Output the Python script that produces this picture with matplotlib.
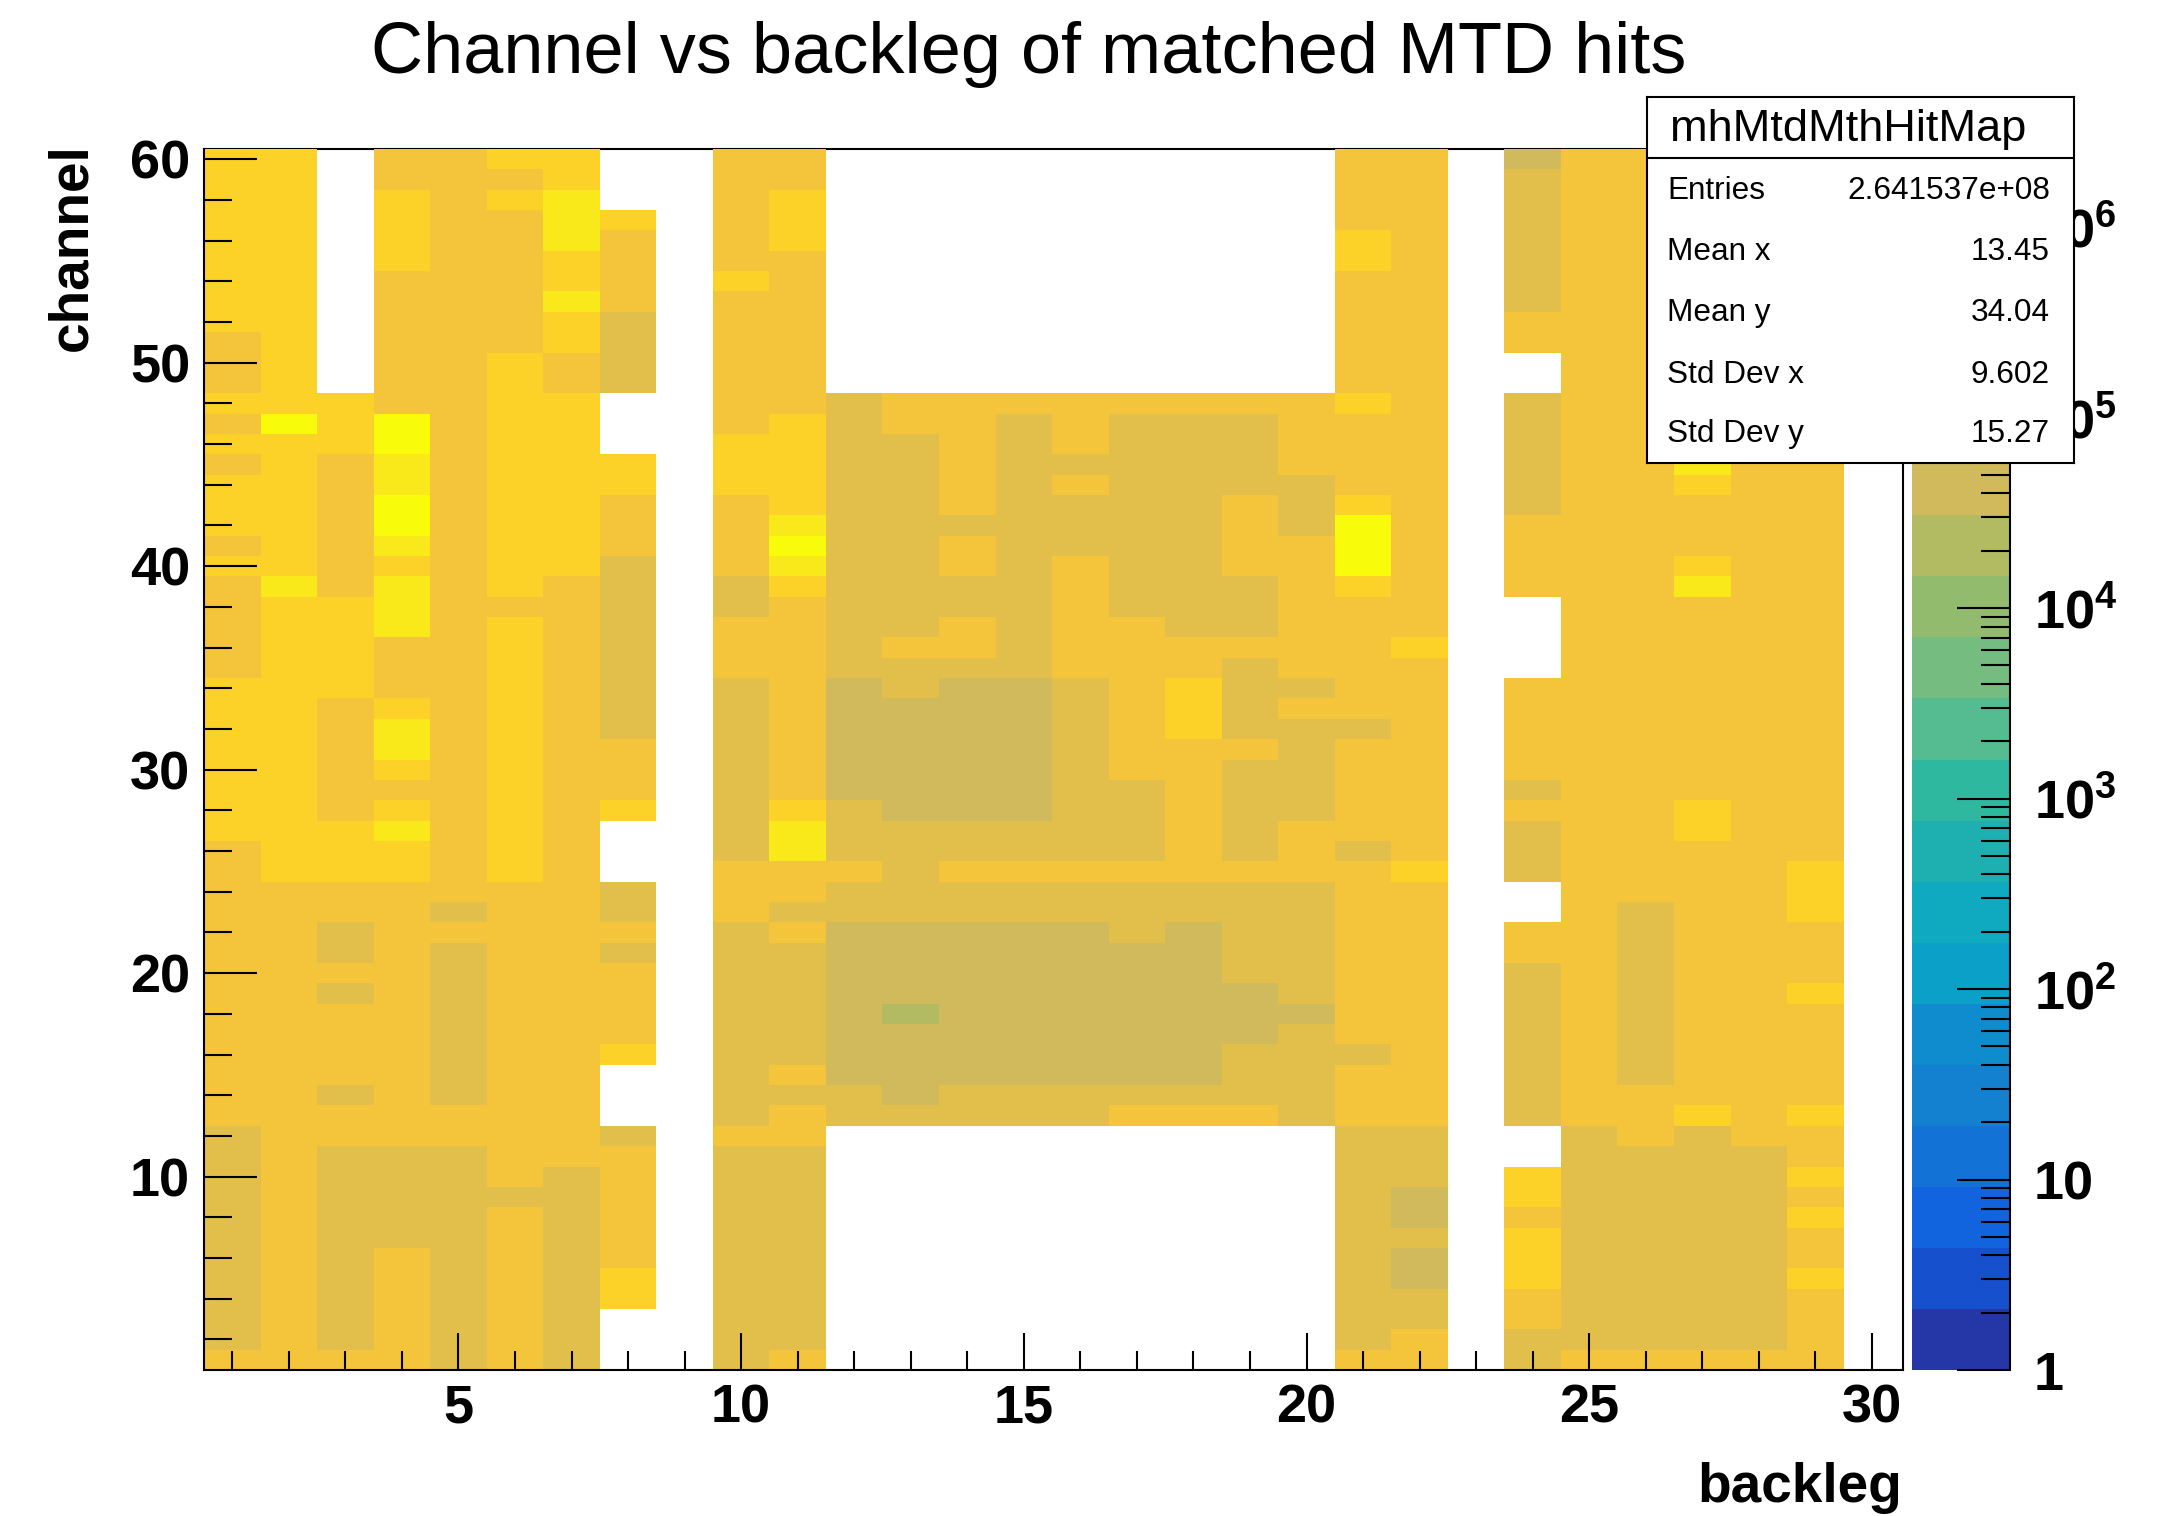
import numpy as np
import matplotlib
matplotlib.use('Agg')
import matplotlib.pyplot as plt
from matplotlib.colors import ListedColormap, LogNorm
from matplotlib.ticker import MultipleLocator, LogLocator, NullFormatter

plt.rcParams['font.family'] = ['Liberation Sans', 'DejaVu Sans']
plt.rcParams['mathtext.fontset'] = 'custom'
plt.rcParams['mathtext.bf'] = 'Liberation Sans:bold'
plt.rcParams['mathtext.rm'] = 'Liberation Sans:bold'

# one string per backleg, runs of hit levels from channel 60 down to channel 1
backleg_01 = "C9 D3 C1 D1 C1 D1 C3 D1 C1 D5 C8 D14 E11 D1"
backleg_02 = "C13 A1 C7 B1 C14 D24"
backleg_03 = ".12 C3 D7 C5 D6 C3 D2 E2 D1 E1 D4 E1 D2 E10 D1"
backleg_04 = "D2 C4 D7 A2 B2 A2 B1 C1 B3 D3 C1 B2 C1 D1 C1 B1 C2 D13 E5 D6"
backleg_05 = "D37 E1 D1 E8 D2 E11"
backleg_06 = "C1 D1 C1 D7 C12 D1 C13 D15 E1 D8"
backleg_07 = "C2 B3 C2 B1 C2 D2 C9 D29 E10"
backleg_08 = ".3 C1 D4 E4 .3 C2 D3 E9 D3 C1 .3 E2 D1 E1 D4 C1 .3 E1 D6 C2 .3"
backleg_09 = ".60"
backleg_10 = "D6 C1 D7 C3 D4 E2 D3 E9 D3 E10 D1 E11"
backleg_11 = "D2 C3 D8 C5 B1 A1 B1 C1 D10 C1 B2 D2 E1 D1 E6 D1 E1 D2 E10 D1"
backleg_12 = ".12 E14 F6 E3 D1 E2 F8 E2 .12"
backleg_13 = ".12 D2 E10 D1 E2 F6 E2 E1 E2 F4 G1 F4 E1 .12"
backleg_14 = ".12 D6 E1 D2 E2 D2 E1 F7 E2 D1 E2 F8 E2 .12"
backleg_15 = ".12 D1 E13 F7 E2 D1 E2 F8 E2 .12"
backleg_16 = ".12 D3 E1 D1 E3 D6 E9 D1 E2 F8 E2 .12"
backleg_17 = ".12 D1 E10 D8 E4 D1 E3 F7 E1 D1 .12"
backleg_18 = ".12 D1 E11 D2 C3 D7 E2 F8 E1 D1 .12"
backleg_19 = ".12 D1 E4 D4 E3 D1 E4 D1 E5 D1 E5 F3 E3 D1 .12"
backleg_20 = ".12 D4 E3 D7 E1 D1 E5 D3 E6 F1 E5 .12"
backleg_21 = "D4 C2 D6 C1 D4 C1 A3 C1 D6 E1 D5 E1 D9 E1 D3 E11 D1"
backleg_22 = "D24 C1 D10 C1 D12 E3 F2 E1 F2 E2 D2"
backleg_23 = ".60"
backleg_24 = "F1 E7 D2 .2 E6 D4 .4 D5 E1 D1 E3 .2 D2 E8 .2 C2 D1 C3 D2 E2"
backleg_25 = "D48 E11 D1"
backleg_26 = "D37 E9 D3 E10 D1"
backleg_27 = "D15 B1 C1 D3 C1 B1 D10 C2 D13 C1 E11 D1"
backleg_28 = "D49 E10 D1"
backleg_29 = "D35 C3 D3 C1 D5 C1 D2 C1 D1 C1 D2 C1 D4"
backleg_30 = ".60"

backlegs = [backleg_01, backleg_02, backleg_03, backleg_04, backleg_05, backleg_06,
            backleg_07, backleg_08, backleg_09, backleg_10, backleg_11, backleg_12,
            backleg_13, backleg_14, backleg_15, backleg_16, backleg_17, backleg_18,
            backleg_19, backleg_20, backleg_21, backleg_22, backleg_23, backleg_24,
            backleg_25, backleg_26, backleg_27, backleg_28, backleg_29, backleg_30]

# typical hits in a bin for each level
level_hits = {'.': np.nan, 'G': 21000, 'F': 45000, 'E': 93000, 'D': 196000,
              'C': 410000, 'B': 850000, 'A': 1800000}

# palette bands, bottom to top of the colour bar
band_colors = ['#2537A6', '#1750CC', '#1264DE', '#1272D6', '#1380D0', '#0F8CCE', '#0AA0C8',
               '#0FAAC0', '#1EB0B0', '#2EB8A0', '#55BC92', '#75BC80', '#93BB6E', '#B2BB62',
               '#D0BA5C', '#E2BF4B', '#F4C43A', '#FDD228', '#F9E81A', '#F8FC0A']
z_max = 2.57e6

x_ticks = [5, 10, 15, 20, 25, 30]
y_ticks = [10, 20, 30, 40, 50, 60]
cbar_ticks = [1, 10, 100, 1000, 10000, 100000, 1000000]
cbar_labels = ['1', '10', r'$\mathbf{10^{2}}$', r'$\mathbf{10^{3}}$', r'$\mathbf{10^{4}}$',
               r'$\mathbf{10^{5}}$', r'$\mathbf{10^{6}}$']

stat_names = ['Entries', 'Mean x', 'Mean y', 'Std Dev x', 'Std Dev y']
stat_values = ['2.641537e+08', '13.45', '34.04', '9.602', '15.27']

# expand the runs into a channel x backleg table
columns = []
for runs in backlegs:
    col = []
    for run in runs.split():
        col += [level_hits[run[0]]] * int(run[1:])
    columns.append(col[::-1])
hits = np.array(columns, dtype=float).T

W, H = 2161, 1516
def frac(x0, y0, x1, y1):
    return [x0 / W, 1 - y1 / H, (x1 - x0) / W, (y1 - y0) / H]

fig = plt.figure(figsize=(W / 100, H / 100), dpi=100, facecolor='white')
ax = fig.add_axes(frac(204, 149, 1903, 1370))
cax = fig.add_axes(frac(1912, 149, 2010, 1370))

cmap = ListedColormap(band_colors)
cmap.set_bad('white', 0)
norm = LogNorm(vmin=1, vmax=z_max)
mesh = ax.pcolormesh(np.arange(0.5, 31), np.arange(0.5, 61), np.ma.masked_invalid(hits),
                     cmap=cmap, norm=norm, zorder=1)
ax.set_xlim(0.5, 30.55); ax.set_ylim(0.5, 60.5)

# plot directives
ax.spines['top'].set_zorder(0.5)
for s in ax.spines.values():
    s.set_linewidth(1.5)
ax.set_xticks(x_ticks); ax.set_yticks(y_ticks)
ax.xaxis.set_minor_locator(MultipleLocator(1)); ax.yaxis.set_minor_locator(MultipleLocator(2))
ax.tick_params(axis='x', which='major', direction='in', length=27, width=1.5, pad=10, labelsize=39)
ax.tick_params(axis='x', which='minor', direction='in', length=14, width=1.5)
ax.tick_params(axis='y', which='major', direction='in', length=38, width=1.5, pad=10, labelsize=39)
ax.tick_params(axis='y', which='minor', direction='in', length=20, width=1.5)
for t in ax.get_xticklabels() + ax.get_yticklabels():
    t.set_fontweight('bold')

# colour bar
cb = fig.colorbar(mesh, cax=cax)
cb.outline.set_visible(False)
cax.spines['right'].set_visible(True); cax.spines['right'].set_linewidth(1.5)
cb.set_ticks(cbar_ticks, labels=cbar_labels)
cax.yaxis.set_minor_locator(LogLocator(base=10, subs=np.arange(2, 10)))
cax.yaxis.set_minor_formatter(NullFormatter())
cax.tick_params(which='major', direction='in', length=38, width=1.5, pad=17, labelsize=39)
cax.tick_params(which='minor', direction='in', length=21, width=1.5)
for t in cax.get_yticklabels():
    t.set_fontweight('bold')

# titles
fig.text(1029 / W, 1 - 54 / H, 'Channel vs backleg of matched MTD hits', fontsize=51.9,
         ha='center', va='center')
fig.text(1902 / W, 1 - 1488 / H, 'backleg', fontsize=39.6, fontweight='bold', ha='right', va='center')
fig.text(72 / W, 1 - 143 / H, 'channel', fontsize=39.6, fontweight='bold', rotation=90,
         ha='center', va='top')

# stats box
box = fig.add_axes(frac(1647, 97, 2074, 463), zorder=10)
box.set_xlim(1647, 2074); box.set_ylim(463, 97)
box.set_xticks([]); box.set_yticks([])
for s in box.spines.values():
    s.set_linewidth(1.5)
box.axhline(158, color='black', lw=1.5)
box.text(1670, 130, 'mhMtdMthHitMap', fontsize=32.5, ha='left', va='center')
for y, name, val in zip([191, 252, 313, 375, 434], stat_names, stat_values):
    box.text(1667, y, name, fontsize=22.7, ha='left', va='center')
    box.text(2050, y, val, fontsize=22.7, ha='right', va='center')

fig.savefig('out.png', dpi=100)
